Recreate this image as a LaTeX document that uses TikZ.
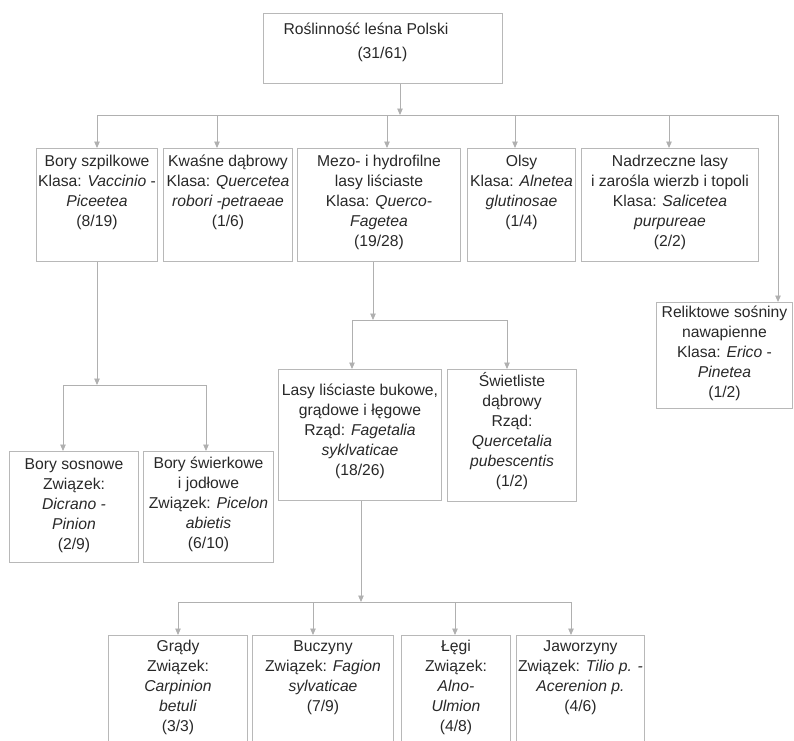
\documentclass[tikz,border=0pt]{standalone}
\usepackage{fontspec}
\setmainfont{Liberation Sans}
\usetikzlibrary{arrows.meta}
\definecolor{linegray}{RGB}{176,176,176}
\definecolor{boxgray}{RGB}{184,184,184}
\definecolor{inkgray}{RGB}{40,40,40}
\newcommand{\taxtext}[4]{\parbox[t][#2][t]{#1}{\centering\vspace*{#3}\begin{tabular}[t]{@{}c@{}}#4\end{tabular}}}
\begin{document}
\begin{tikzpicture}[x=1pt, y=-1pt,
  taxbox/.style={draw=boxgray, line width=1pt, inner sep=0pt, anchor=north west, text=inkgray, font=\fontsize{15.7}{20}\selectfont},
  link/.style={draw=linegray, line width=0.9pt},
  arr/.style={link, -{Triangle[length=6.5pt,width=5.5pt]}, linegray}]
\useasboundingbox (0,0) rectangle (794,740);
\node[taxbox] (root) at (263,13) {\parbox[t][70pt][t]{239pt}{\rule{0pt}{21pt}\hspace*{20pt}Roślinność leśna Polski\\[4pt]\hspace*{94pt}(31/61)}};
\node[taxbox] (bs) at (36,148) {\taxtext{121pt}{113pt}{3.5pt}{Bory szpilkowe\\Klasa: \textit{Vaccinio} -\\\textit{Piceetea}\\(8/19)}};
\node[taxbox] (kw) at (163,148) {\taxtext{129pt}{113pt}{3.5pt}{Kwaśne dąbrowy\\Klasa: \textit{Quercetea}\\\textit{robori -petraeae}\\(1/6)}};
\node[taxbox] (mh) at (297,148) {\taxtext{163pt}{113pt}{3.5pt}{Mezo- i hydrofilne\\lasy liściaste\\Klasa: \textit{Querco-}\\\textit{Fagetea}\\(19/28)}};
\node[taxbox] (ol) at (467,148) {\taxtext{108pt}{113pt}{3.5pt}{Olsy\\Klasa: \textit{Alnetea}\\\textit{glutinosae}\\(1/4)}};
\node[taxbox] (nl) at (581,148) {\taxtext{177pt}{113pt}{3.5pt}{Nadrzeczne lasy\\i zarośla wierzb i topoli\\Klasa: \textit{Salicetea}\\\textit{purpureae}\\(2/2)}};
\node[taxbox] (rs) at (656,302) {\taxtext{136pt}{106pt}{0.5pt}{Reliktowe sośniny\\nawapienne\\Klasa: \textit{Erico} -\\\textit{Pinetea}\\(1/2)}};
\node[taxbox] (bso) at (9,451) {\taxtext{129pt}{111pt}{4pt}{Bory sosnowe\\Związek:\\\textit{Dicrano -}\\\textit{Pinion}\\(2/9)}};
\node[taxbox] (bsw) at (143,451) {\taxtext{130pt}{111pt}{3pt}{Bory świerkowe\\i jodłowe\\Związek: \textit{Picelon}\\\textit{abietis}\\(6/10)}};
\node[taxbox] (lb) at (278,369) {\taxtext{163pt}{131pt}{12pt}{Lasy liściaste bukowe,\\grądowe i łęgowe\\Rząd: \textit{Fagetalia}\\\textit{syklvaticae}\\(18/26)}};
\node[taxbox] (sd) at (447,369) {\taxtext{129pt}{132pt}{3pt}{Świetliste\\dąbrowy\\Rząd:\\\textit{Quercetalia}\\\textit{pubescentis}\\(1/2)}};
\node[taxbox] (gr) at (108,635) {\taxtext{139pt}{108pt}{2pt}{Grądy\\Związek:\\\textit{Carpinion}\\\textit{betuli}\\(3/3)}};
\node[taxbox] (bu) at (252,635) {\taxtext{141pt}{108pt}{2pt}{Buczyny\\Związek: \textit{Fagion}\\\textit{sylvaticae}\\(7/9)}};
\node[taxbox] (le) at (401,635) {\taxtext{109pt}{108pt}{2pt}{Łęgi\\Związek:\\\textit{Alno-}\\\textit{Ulmion}\\(4/8)}};
\node[taxbox] (ja) at (516,635) {\taxtext{128pt}{108pt}{2pt}{Jaworzyny\\Związek: \textit{Tilio p. -}\\\textit{Acerenion p.}\\(4/6)}};

\coordinate (t0) at (400,115);
\draw[arr] (t0 |- root.south) -- (t0);
\foreach \nm/\xx in {bs/97, kw/217, mh/387, ol/515, nl/669, rs/778}
  \coordinate (d-\nm) at (\xx,115);
\draw[link] (d-bs) -- (d-rs);
\foreach \nm in {bs, kw, mh, ol, nl, rs}
  \draw[arr] (d-\nm) -- (d-\nm |- \nm.north);

\coordinate (m1) at (97,385);
\draw[arr] (m1 |- bs.south) -- (m1);
\foreach \nm/\xx in {bso/63, bsw/206}
  \coordinate (d-\nm) at (\xx,385);
\draw[link] (d-bso) -- (d-bsw);
\foreach \nm in {bso, bsw}
  \draw[arr] (d-\nm) -- (d-\nm |- \nm.north);

\coordinate (m2) at (373,320);
\draw[arr] (m2 |- mh.south) -- (m2);
\foreach \nm/\xx in {lb/352, sd/507}
  \coordinate (d-\nm) at (\xx,320);
\draw[link] (d-lb) -- (d-sd);
\foreach \nm in {lb, sd}
  \draw[arr] (d-\nm) -- (d-\nm |- \nm.north);

\coordinate (m3) at (361,602);
\draw[arr] (m3 |- lb.south) -- (m3);
\foreach \nm/\xx in {gr/178, bu/313, le/455, ja/571}
  \coordinate (d-\nm) at (\xx,602);
\draw[link] (d-gr) -- (d-ja);
\foreach \nm in {gr, bu, le, ja}
  \draw[arr] (d-\nm) -- (d-\nm |- \nm.north);
\end{tikzpicture}
\end{document}
